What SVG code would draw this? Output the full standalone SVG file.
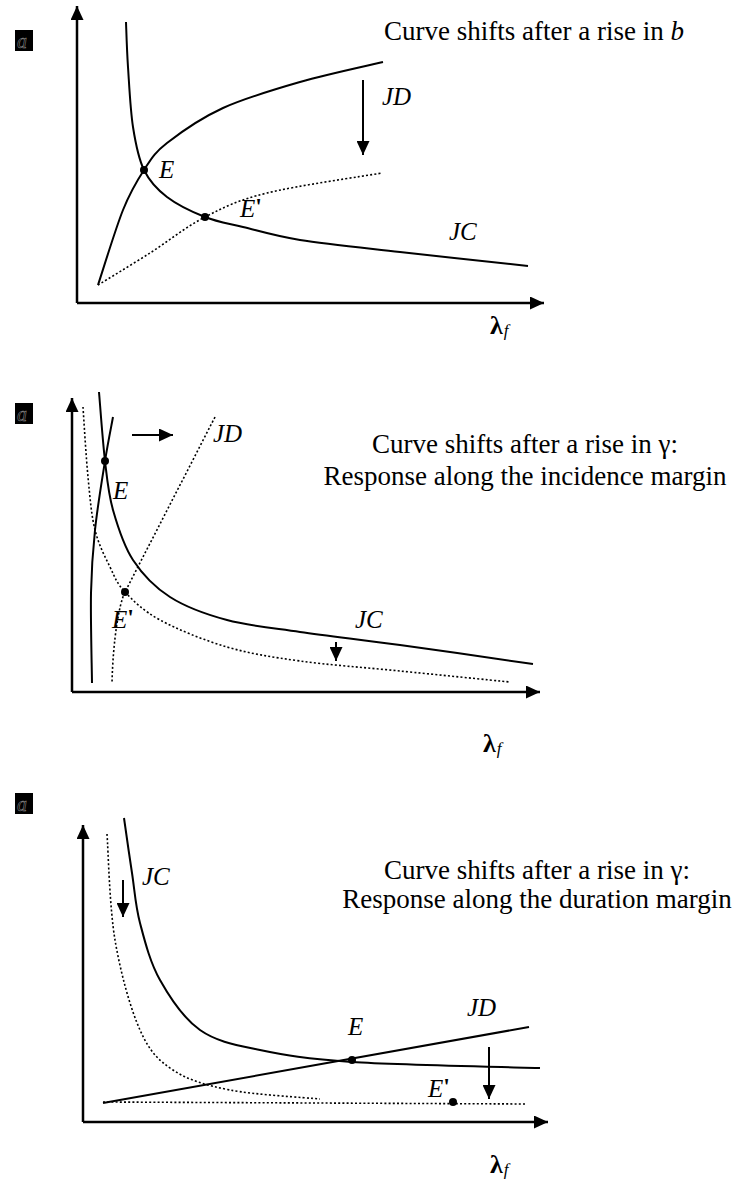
<svg xmlns="http://www.w3.org/2000/svg" width="745" height="1179" viewBox="0 0 745 1179">
<style>
.ax{stroke:#000;stroke-width:2.5;fill:none}
.sol{stroke:#000;stroke-width:2;fill:none}
.dot{stroke:#000;stroke-width:1.6;fill:none;stroke-dasharray:2 2.2}
.arr{stroke:#000;stroke-width:2;fill:none}
.pt{fill:#000}
.t{font-family:"Liberation Serif","Times New Roman",serif;font-size:27px;fill:#000}
.i{font-family:"Liberation Serif","Times New Roman",serif;font-size:25px;font-style:italic;fill:#000}
.lam{font-family:"Liberation Serif","Times New Roman",serif;font-size:26px;font-weight:bold;fill:#000}
.sub{font-size:17px;font-weight:normal;font-style:italic}
.pr{font-style:normal;font-weight:bold;font-size:24px}
.box{fill:#000}
.boxg{font-family:"Liberation Serif",serif;font-size:20px;font-style:italic;fill:none;stroke:#999;stroke-width:0.5}
</style>
<defs>
<marker id="ah" viewBox="0 0 14 13" refX="14" refY="6.5" markerWidth="14" markerHeight="13" markerUnits="userSpaceOnUse" orient="auto">
<path d="M0,0 L14,6.5 L0,13 z" fill="#000"/>
</marker>
</defs>

<!-- Panel 1 -->
<g id="panel1">
<g id="p1-ylabel"><rect class="box" x="15" y="30" width="18" height="21"/><text class="boxg" x="17" y="48">a</text></g>
<g id="p1-axes">
<line class="ax" x1="77" y1="303" x2="77" y2="6" marker-end="url(#ah)"/>
<line class="ax" x1="77" y1="303" x2="544" y2="303" marker-end="url(#ah)"/>
</g>
<g id="p1-connectors">
<path id="p1-JC" class="sol" d="M126,22 C126.3,29.5 126.8,49.5 128,67 C129.2,84.5 130.3,109.8 133,127 C135.7,144.2 138.3,158.3 144,170 C149.7,181.7 156.8,189.2 167,197 C177.2,204.8 192.3,212 205,217 C217.7,222 227.2,223.2 243,227 C258.8,230.8 273.8,235.8 300,240 C326.2,244.2 362,247.7 400,252 C438,256.3 506.7,263.7 528,266"/>
<path id="p1-JD" class="sol" d="M98,285 C102.2,272.5 115.3,229.2 123,210 C130.7,190.8 136.7,181.2 144,170 C151.3,158.8 153.8,153.3 167,143 C180.2,132.7 200.8,118.2 223,108 C245.2,97.8 273.3,89.7 300,82 C326.7,74.3 369.2,65.3 383,62"/>
<path id="p1-JD2" class="dot" d="M98,285 C106.7,279.7 132.2,264.3 150,253 C167.8,241.7 185.5,227 205,217 C224.5,207 237.5,200.3 267,193 C296.5,185.7 362.8,176.3 382,173"/>
<line class="arr" x1="363" y1="80" x2="363" y2="155" marker-end="url(#ah)"/>
</g>
<g id="p1-E"><circle class="pt" cx="144" cy="170" r="4"/><text class="i" x="159" y="178">E</text></g>
<g id="p1-E2"><circle class="pt" cx="205" cy="217" r="4"/><text class="i" x="240" y="217">E<tspan class="pr" dy="-3">'</tspan></text></g>
<text class="i" x="382" y="105">JD</text>
<text class="i" x="449" y="240">JC</text>
<text class="t" x="384" y="40">Curve shifts after a rise in <tspan font-style="italic">b</tspan></text>
<text class="lam" x="490" y="334">λ<tspan class="sub" dx="1" dy="2">f</tspan></text>
</g>

<!-- Panel 2 -->
<g id="panel2">
<g id="p2-ylabel"><rect class="box" x="15" y="403" width="18" height="21"/><text class="boxg" x="17" y="421">a</text></g>
<g id="p2-axes">
<line class="ax" x1="72" y1="692" x2="72" y2="398" marker-end="url(#ah)"/>
<line class="ax" x1="72" y1="692" x2="540" y2="692" marker-end="url(#ah)"/>
</g>
<g id="p2-connectors">
<path id="p2-JC" class="sol" d="M99,392 C100,403.5 102.7,441.3 105,461 C107.3,480.7 108.3,493.5 113,510 C117.7,526.5 123.5,545.5 133,560 C142.5,574.5 154.3,587 170,597 C185.7,607 205.3,614.2 227,620 C248.7,625.8 271.2,627.8 300,632 C328.8,636.2 361.2,639.7 400,645 C438.8,650.3 510.8,660.8 533,664"/>
<path id="p2-JD" class="sol" d="M113,417 C111.7,424.3 108,442.2 105,461 C102,479.8 97.3,508 95,530 C92.7,552 91.5,568 91,593 C90.5,618 91.8,665.5 92,683"/>
<path id="p2-JC2" class="dot" d="M83,407 C83.8,418.7 86,456.5 88,477 C90,497.5 91.3,515 95,530 C98.7,545 105,556.7 110,567 C115,577.3 116.7,583.2 125,592 C133.3,600.8 143,610.8 160,620 C177,629.2 203.7,640.2 227,647 C250.3,653.8 271.2,657 300,661 C328.8,665 365,667.5 400,671 C435,674.5 491.7,680.2 510,682"/>
<path id="p2-JD2" class="dot" d="M215,417 L125,592 C119,604 113,640 112,683"/>
<line class="arr" x1="132" y1="435" x2="173" y2="435" marker-end="url(#ah)"/>
<line class="arr" x1="336" y1="642" x2="336" y2="661" marker-end="url(#ah)"/>
</g>
<g id="p2-E"><circle class="pt" cx="105" cy="461" r="4"/><text class="i" x="113" y="499">E</text></g>
<g id="p2-E2"><circle class="pt" cx="125" cy="592" r="4"/><text class="i" x="112" y="628">E<tspan class="pr" dy="-3">'</tspan></text></g>
<text class="i" x="213" y="442">JD</text>
<text class="i" x="355" y="628">JC</text>
<text class="t" text-anchor="middle" x="525" y="453">Curve shifts after a rise in γ:</text>
<text class="t" text-anchor="middle" x="525" y="485">Response along the incidence margin</text>
<text class="lam" x="483" y="752">λ<tspan class="sub" dx="1" dy="2">f</tspan></text>
</g>

<!-- Panel 3 -->
<g id="panel3">
<g id="p3-ylabel"><rect class="box" x="15" y="793" width="18" height="21"/><text class="boxg" x="17" y="811">a</text></g>
<g id="p3-axes">
<line class="ax" x1="83" y1="1122" x2="83" y2="825" marker-end="url(#ah)"/>
<line class="ax" x1="83" y1="1122" x2="548" y2="1122" marker-end="url(#ah)"/>
</g>
<g id="p3-connectors">
<path id="p3-JC" class="sol" d="M124,818 C125.3,827.2 129.3,855.5 132,873 C134.7,890.5 135.3,905.2 140,923 C144.7,940.8 150,962.2 160,980 C170,997.8 183.3,1018.3 200,1030 C216.7,1041.7 234.7,1044.7 260,1050 C285.3,1055.3 305.3,1059 352,1062 C398.7,1065 508.7,1067 540,1068"/>
<path id="p3-JC2" class="dot" d="M107,834 C108.3,851.7 109.5,907.3 115,940 C120.5,972.7 130.3,1008.3 140,1030 C149.7,1051.7 158,1060 173,1070 C188,1080 205.5,1085.2 230,1090 C254.5,1094.8 305,1097.5 320,1099"/>
<line id="p3-JD2" class="dot" x1="103" y1="1102" x2="527" y2="1104"/>
<line id="p3-JD" class="sol" x1="103" y1="1103" x2="529" y2="1027"/>
<line class="arr" x1="123" y1="880" x2="123" y2="917" marker-end="url(#ah)"/>
<line class="arr" x1="489" y1="1047" x2="489" y2="1099" marker-end="url(#ah)"/>
</g>
<g id="p3-E"><circle class="pt" cx="352" cy="1060" r="4"/><text class="i" x="348" y="1035">E</text></g>
<g id="p3-E2"><circle class="pt" cx="453" cy="1102" r="4"/><text class="i" x="428" y="1097">E<tspan class="pr" dy="-3">'</tspan></text></g>
<text class="i" x="142" y="885">JC</text>
<text class="i" x="467" y="1016">JD</text>
<text class="t" text-anchor="middle" x="537" y="879">Curve shifts after a rise in γ:</text>
<text class="t" text-anchor="middle" x="537" y="908">Response along the duration margin</text>
<text class="lam" x="490" y="1173">λ<tspan class="sub" dx="1" dy="2">f</tspan></text>
</g>
</svg>
